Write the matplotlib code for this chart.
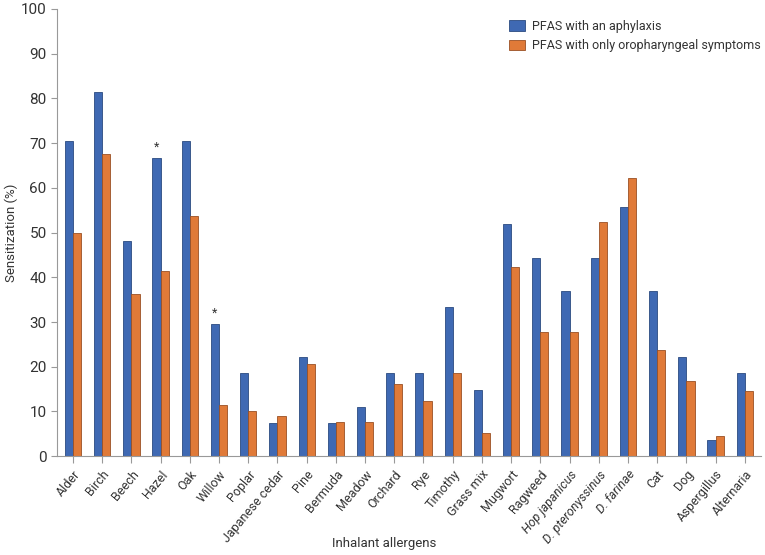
import matplotlib
matplotlib.use("Agg")
import matplotlib.pyplot as plt
import numpy as np
from matplotlib import font_manager

# pick a narrow font if available
names = {f.name for f in font_manager.fontManager.ttflist}
fam = "Liberation Sans Narrow" if "Liberation Sans Narrow" in names else "Roboto"
plt.rcParams['font.family'] = [fam, 'DejaVu Sans']

allergens = ["Alder", "Birch", "Beech", "Hazel", "Oak", "Willow", "Poplar",
             "Japanese cedar", "Pine", "Bermuda", "Meadow", "Orchard", "Rye",
             "Timothy", "Grass mix", "Mugwort", "Ragweed", "Hop japanicus",
             "D. pteronyssinus", "D. farinae", "Cat", "Dog", "Aspergillus",
             "Alternaria"]
italic_labels = ["Hop japanicus", "D. pteronyssinus", "D. farinae"]
anaphylaxis = [70.4, 81.5, 48.1, 66.7, 70.4, 29.6, 18.5, 7.4, 22.2, 7.4, 11.1,
               18.5, 18.5, 33.3, 14.8, 51.9, 44.4, 37.0, 44.4, 55.6, 37.0,
               22.2, 3.7, 18.5]
oropharyngeal = [49.8, 67.6, 36.3, 41.4, 53.8, 11.4, 10.0, 9.1, 20.7, 7.7, 7.7,
                 16.1, 12.3, 18.5, 5.3, 42.3, 27.7, 27.7, 52.3, 62.3, 23.8,
                 16.9, 4.6, 14.6]
starred = ["Hazel", "Willow"]

blue = "#3f69b3"
orange = "#e07a38"

fig = plt.figure(figsize=(7.65, 5.55), dpi=100)
ax = fig.add_axes([0.0745, 0.178, 0.92, 0.806])

x = np.arange(len(allergens))
w = 0.28
ax.bar(x - w / 2, anaphylaxis, w, color=blue, edgecolor="#2b4a80",
       linewidth=0.6, label="PFAS with an aphylaxis")
ax.bar(x + w / 2, oropharyngeal, w, color=orange, edgecolor="#9a5024",
       linewidth=0.6, label="PFAS with only oropharyngeal symptoms")

for name in starred:
    i = allergens.index(name)
    ax.text(x[i] - w / 2, anaphylaxis[i] + 1.0, "*", ha="center", va="bottom",
            fontsize=9, color="#333333")

ax.set_xlim(-0.55, len(allergens) - 0.45)
ax.set_ylim(0, 100)
ax.set_yticks(range(0, 101, 10))
ax.set_xticks(x)
ax.set_xticklabels(allergens, rotation=50, ha="right", rotation_mode="anchor",
                   fontsize=9, color="#333333")
for lab in ax.get_xticklabels():
    if lab.get_text() in italic_labels:
        lab.set_style("italic")
ax.tick_params(axis="y", labelsize=11, colors="#333333", length=4,
               color="#999999")
ax.tick_params(axis="x", length=5, color="#999999")

for s in ["top", "right"]:
    ax.spines[s].set_visible(False)
for s in ["left", "bottom"]:
    ax.spines[s].set_color("#999999")
    ax.spines[s].set_linewidth(0.8)

ax.set_ylabel("Sensitization (%)", fontsize=9.5, color="#333333")
ax.yaxis.set_label_coords(-0.056, 0.5)
ax.set_xlabel("Inhalant allergens", fontsize=9.5, color="#333333")
ax.xaxis.set_label_coords(0.465, -0.18)

ax.legend(loc="upper left", bbox_to_anchor=(0.63, 0.995), frameon=False,
          fontsize=9, handlelength=1.3, handleheight=0.9,
          labelcolor="#333333", borderaxespad=0.3, handletextpad=0.5)

fig.savefig("out.png", dpi=100)
